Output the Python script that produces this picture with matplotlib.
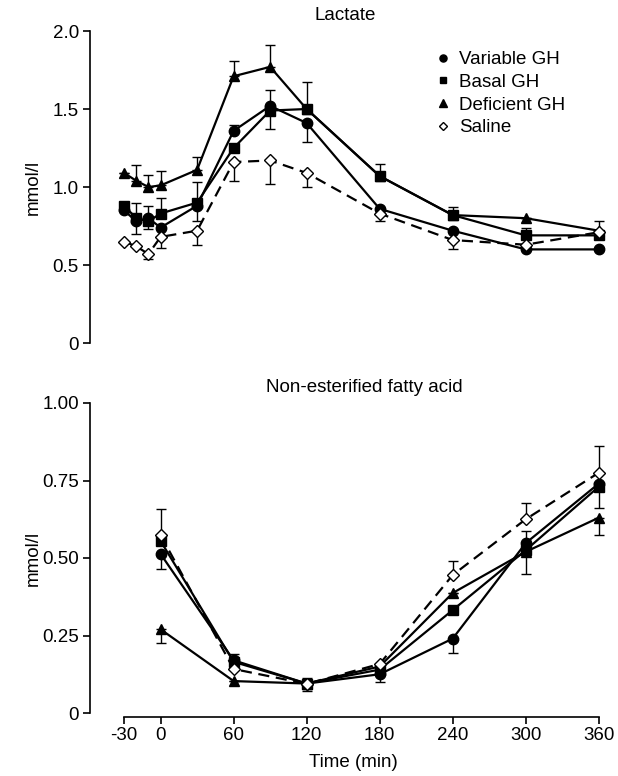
import matplotlib
matplotlib.use("Agg")
import matplotlib.pyplot as plt
from matplotlib.lines import Line2D

plt.rcParams['font.family'] = ['Liberation Sans', 'DejaVu Sans']

# ---------------- data ----------------
series_names = ["Variable GH", "Basal GH", "Deficient GH", "Saline"]

lac_time = [-30, -20, -10, 0, 30, 60, 90, 120, 180, 240, 300, 360]
lac_variable = [0.85, 0.78, 0.80, 0.74, 0.88, 1.36, 1.52, 1.41, 0.86, 0.72, 0.60, 0.60]
lac_basal = [0.88, 0.80, 0.78, 0.83, 0.90, 1.25, 1.49, 1.50, 1.07, 0.82, 0.69, 0.69]
lac_deficient = [1.09, 1.04, 1.00, 1.01, 1.11, 1.71, 1.77, 1.50, 1.07, 0.82, 0.80, 0.72]
lac_saline = [0.65, 0.62, 0.57, 0.68, 0.72, 1.16, 1.17, 1.09, 0.83, 0.66, 0.63, 0.71]

lac_variable_lo = [0, 0.08, 0.07, 0, 0.10, 0, 0, 0.12, 0, 0, 0, 0]
lac_variable_hi = [0, 0.12, 0.08, 0, 0, 0.04, 0.10, 0, 0, 0, 0, 0]
lac_basal_lo = [0, 0, 0, 0, 0, 0, 0.12, 0, 0, 0, 0, 0]
lac_basal_hi = [0, 0, 0, 0.10, 0.13, 0, 0, 0.17, 0.08, 0.05, 0.05, 0]
lac_deficient_lo = [0] * 12
lac_deficient_hi = [0, 0.10, 0.08, 0.09, 0.08, 0.10, 0.14, 0, 0, 0, 0, 0]
lac_saline_lo = [0, 0, 0.03, 0.07, 0.09, 0.12, 0.15, 0.09, 0.05, 0.06, 0, 0]
lac_saline_hi = [0, 0, 0, 0, 0, 0, 0, 0, 0, 0, 0, 0.07]

nefa_time = [0, 60, 120, 180, 240, 300, 360]
nefa_variable = [0.513, 0.170, 0.095, 0.125, 0.240, 0.548, 0.740]
nefa_basal = [0.555, 0.165, 0.095, 0.140, 0.332, 0.525, 0.730]
nefa_deficient = [0.270, 0.103, 0.095, 0.150, 0.387, 0.520, 0.630]
nefa_saline = [0.574, 0.142, 0.094, 0.158, 0.445, 0.625, 0.775]

nefa_variable_lo = [0.05, 0, 0.025, 0.025, 0.045, 0, 0.08]
nefa_variable_hi = [0, 0.02, 0, 0, 0, 0.04, 0]
nefa_basal_lo = [0, 0, 0, 0, 0, 0.075, 0]
nefa_basal_hi = [0] * 7
nefa_deficient_lo = [0.045, 0, 0, 0, 0, 0, 0.055]
nefa_deficient_hi = [0] * 7
nefa_saline_lo = [0] * 7
nefa_saline_hi = [0.085, 0, 0.02, 0, 0.045, 0.052, 0.085]

x_ticks = [-30, 0, 60, 120, 180, 240, 300, 360]
x_ticklabels = ["-30", "0", "60", "120", "180", "240", "300", "360"]
lac_yticks = [0, 0.5, 1.0, 1.5, 2.0]
lac_yticklabels = ["0", "0.5", "1.0", "1.5", "2.0"]
nefa_yticks = [0, 0.25, 0.50, 0.75, 1.00]
nefa_yticklabels = ["0", "0.25", "0.50", "0.75", "1.00"]

# ---------------- styles ----------------
styles = [
    dict(marker='o', ms=7.5, mfc='black', mec='black', ls='-'),
    dict(marker='s', ms=6.8, mfc='black', mec='black', ls='-'),
    dict(marker='^', ms=7.5, mfc='black', mec='black', ls='-'),
    dict(marker='D', ms=6.2, mfc='white', mec='black', ls=(0, (5, 3))),
]

W, H = 618, 776
fig = plt.figure(figsize=(W / 100, H / 100), dpi=100)

def px_axes(left, top, right, bottom):
    return fig.add_axes([left / W, 1 - bottom / H, (right - left) / W, (bottom - top) / H])

ax1 = px_axes(90, 31, 617, 343)
ax2 = px_axes(90, 403, 617, 713)

FS = 13.5

def draw(ax, t, ys, los, his):
    for y, lo, hi, st in zip(ys, los, his, styles):
        ax.errorbar(t, y, yerr=[lo, hi], fmt='none', ecolor='black', elinewidth=1.0,
                    capsize=3.5, capthick=1.0, zorder=2)
    for y, st in zip(ys, styles):
        ax.plot(t, y, color='black', lw=1.6, ls=st['ls'], marker=st['marker'], ms=st['ms'],
                mfc=st['mfc'], mec=st['mec'], mew=1.0, zorder=3)

draw(ax1, lac_time, [lac_variable, lac_basal, lac_deficient, lac_saline],
     [lac_variable_lo, lac_basal_lo, lac_deficient_lo, lac_saline_lo],
     [lac_variable_hi, lac_basal_hi, lac_deficient_hi, lac_saline_hi])
draw(ax2, nefa_time, [nefa_variable, nefa_basal, nefa_deficient, nefa_saline],
     [nefa_variable_lo, nefa_basal_lo, nefa_deficient_lo, nefa_saline_lo],
     [nefa_variable_hi, nefa_basal_hi, nefa_deficient_hi, nefa_saline_hi])

for ax in (ax1, ax2):
    ax.set_xlim(-58, 375)
    for s in ('top', 'right'):
        ax.spines[s].set_visible(False)
    ax.spines['left'].set_linewidth(1.2)
    ax.tick_params(axis='y', direction='out', length=5, width=1.2, pad=3, labelsize=FS)
    ax.patch.set_alpha(0)

ax1.set_ylim(0, 2.0)
ax1.spines['bottom'].set_visible(False)
ax1.set_xticks([])
ax1.set_yticks(lac_yticks)
ax1.set_yticklabels(lac_yticklabels)

ax2.set_ylim(0, 1.0)
ax2.set_yticks(nefa_yticks)
ax2.set_yticklabels(nefa_yticklabels)
ax2.set_xticks(x_ticks)
ax2.set_xticklabels(x_ticklabels)
ax2.spines['bottom'].set_position(('outward', 3))
ax2.spines['bottom'].set_bounds(-30, 360)
ax2.spines['bottom'].set_linewidth(1.2)
ax2.tick_params(axis='x', direction='out', length=5, width=1.2, pad=2, labelsize=FS)
ax2.set_xlabel("Time (min)", fontsize=FS, labelpad=7)

for ax, yc in ((ax1, 187), (ax2, 558)):
    fig.text(33 / W, 1 - yc / H, "mmol/l", rotation=90, ha='center', va='center', fontsize=FS)

fig.text(345 / W, 1 - 15 / H, "Lactate", ha='center', va='center', fontsize=FS)
fig.text(364 / W, 1 - 387 / H, "Non-esterified fatty acid", ha='center', va='center', fontsize=FS)

handles = [Line2D([], [], ls='none', marker=st['marker'], ms=st['ms'] * 0.68,
                  mfc=st['mfc'], mec='black', mew=1.0) for st in styles]
leg = ax1.legend(handles, series_names, loc='upper left', frameon=False, fontsize=FS,
                 bbox_to_anchor=(436 / W, 1 - 51 / H), bbox_transform=fig.transFigure,
                 handlelength=0.8, handletextpad=0.45, labelspacing=0.3, borderpad=0,
                 borderaxespad=0)

fig.savefig("out.png", dpi=100)
